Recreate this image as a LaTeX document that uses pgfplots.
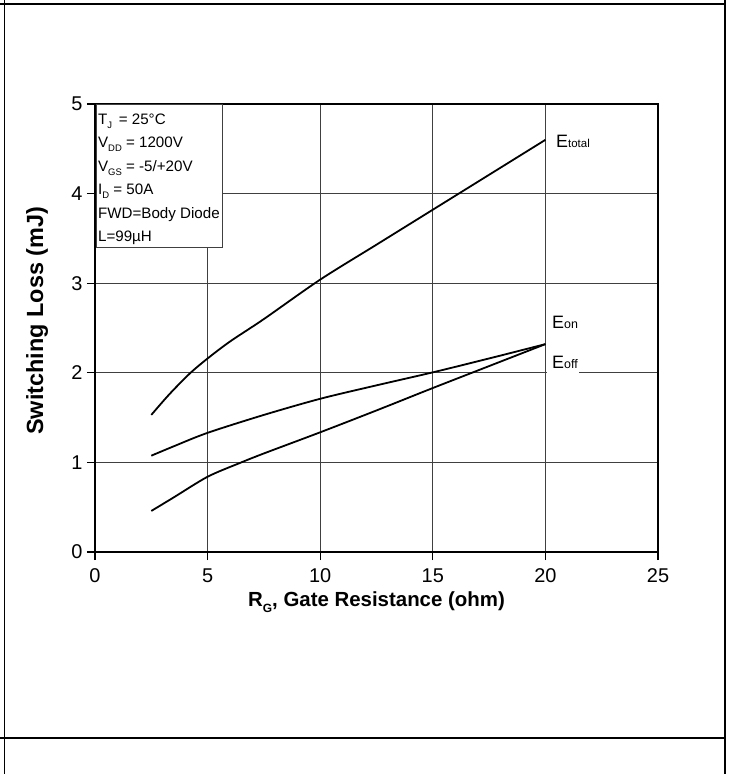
\documentclass[border=0pt]{standalone}
\usepackage{fontspec}
\setmainfont{Liberation Sans}
\usepackage{pgfplots}
\pgfplotsset{compat=1.18}
\newcommand\sub[1]{\raisebox{-0.5ex}{\fontsize{9.5}{9.5}\selectfont #1}}
\newcommand\subb[1]{\raisebox{-0.5ex}{\fontsize{12}{12}\selectfont #1}}
\begin{document}
\begin{tikzpicture}[x=1bp,y=1bp]
\useasboundingbox (-95,-222) rectangle (636,552);
\begin{axis}[
  at={(0,0)}, anchor=south west, scale only axis,
  width=563bp, height=448bp,
  xmin=0, xmax=25, ymin=0, ymax=5,
  xtick={0,5,...,25}, ytick={0,1,...,5},
  xtick pos=left, ytick pos=left,
  grid=major, major grid style={line width=0.8pt, draw=black!75},
  axis line style={line width=1.2pt},
  tick style={line width=1.2pt, black}, tick align=outside, major tick length=8bp,
  ticklabel style={font=\fontsize{20}{22}\selectfont},
  xticklabel style={yshift=-5bp},
  yticklabel style={xshift=-1bp},
  /pgf/number format/assume math mode=true,
  xlabel={R\subb{G}, Gate Resistance (ohm)},
  ylabel={Switching Loss (mJ)},
  xlabel style={font=\bfseries\fontsize{20.5}{24}\selectfont, at={(axis description cs:0.5,-0.112)}, anchor=center},
  ylabel style={font=\bfseries\fontsize{23.5}{26}\selectfont, at={(axis description cs:-0.103,0.516)}, anchor=center},
]
\addplot[black, line width=1.8bp, smooth] coordinates {
(2.5,1.53) (3.3,1.76) (4.2,1.99) (5,2.16) (6,2.35) (7.5,2.6) (10,3.04) (12.5,3.43) (15,3.82) (17.5,4.21) (20,4.6)};
\addplot[black, line width=1.8bp, smooth] coordinates {
(2.5,1.075) (3.5,1.18) (5,1.33) (7.5,1.53) (10,1.71) (12.5,1.86) (15,2.005) (17.5,2.16) (20,2.32)};
\addplot[black, line width=1.8bp, smooth] coordinates {
(2.5,0.458) (3.5,0.61) (5,0.84) (6.4,0.99) (7.5,1.1) (10,1.336) (12.5,1.58) (15,1.83) (17.5,2.075) (20,2.32)};
\draw[fill=white, draw=black!75, line width=0.8pt] (axis cs:0.04,5) rectangle (axis cs:5.64,3.40);
\begin{scope}[every node/.style={anchor=base west, inner sep=0, font=\fontsize{15.2}{15}\selectfont}]
\node at (axis cs:0.13,4.773) {T\sub{J}\, = 25°C};
\node at (axis cs:0.13,4.511) {V\sub{DD} = 1200V};
\node at (axis cs:0.13,4.249) {V\sub{GS} = -5/+20V};
\node at (axis cs:0.13,3.987) {I\sub{D} = 50A};
\node at (axis cs:0.13,3.724) {FWD=Body Diode};
\node at (axis cs:0.13,3.462) {L=99µH};
\end{scope}
\fill[white] (axis cs:20.05,1.97) rectangle (axis cs:21.5,2.2);
\begin{scope}[every node/.style={anchor=base west, inner sep=0, font=\fontsize{18}{18}\selectfont}]
\node at (axis cs:20.47,4.52) {E{\fontsize{11.5}{11}\selectfont total}};
\node at (axis cs:20.29,2.497) {E{\fontsize{12.5}{12}\selectfont on}};
\node at (axis cs:20.29,2.05) {E{\fontsize{12.5}{12}\selectfont off}};
\end{scope}
\end{axis}
\draw[line width=1.8bp] (-90.5,-222) -- (-90.5,552);
\draw[line width=1.8bp] (630,-222) -- (630,552);
\draw[line width=1.8bp] (-95,548) -- (630,548);
\draw[line width=1.8bp] (-95,-186) -- (630,-186);
\end{tikzpicture}
\end{document}
